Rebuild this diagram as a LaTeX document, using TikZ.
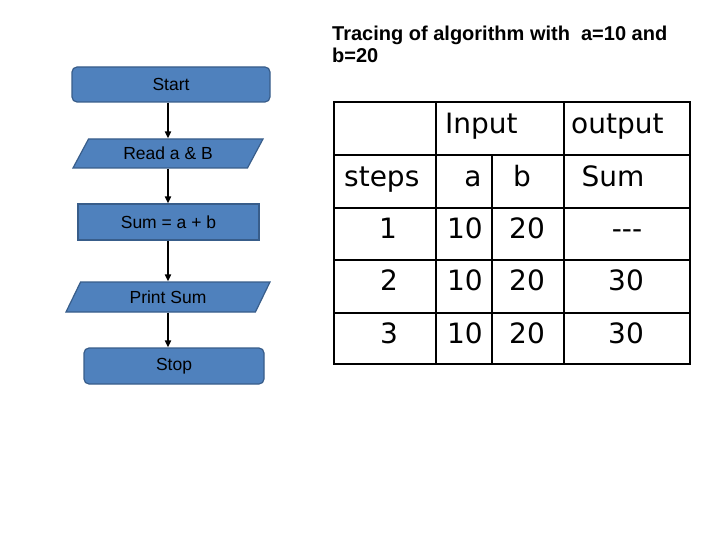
\documentclass[tikz,border=0pt]{standalone}
\usepackage{fontspec}
\setmainfont{Liberation Sans}
\newfontfamily\tabfont{DejaVu Sans}
\usetikzlibrary{shapes.geometric,arrows.meta}
\definecolor{boxfill}{HTML}{4F81BD}
\definecolor{boxline}{HTML}{385D8A}
\begin{document}
\begin{tikzpicture}[x=1pt,y=-1pt,
 fc/.style={draw=boxline,fill=boxfill,line width=1.2pt,inner sep=0pt,font=\fontsize{17.5}{20}\selectfont},
 term/.style={fc,rectangle,rounded corners=5pt},
 proc/.style={fc,rectangle},
 io/.style={fc,trapezium,trapezium stretches body,trapezium left angle=#1,trapezium right angle=180-#1},
 arr/.style={-{Triangle[length=7pt,width=6pt]},line width=1.8pt},
 tline/.style={line width=1.8pt},
 cell/.style={font=\tabfont\fontsize{28}{30}\selectfont,inner sep=0pt}]
\useasboundingbox (0,0) rectangle (720,540);
% flowchart
\node[term,minimum width=198pt,minimum height=35pt] (start) at (171,84.5) {Start};
\node[io=39.6,minimum width=190pt,minimum height=29pt] (read) at (168,153.5) {Read a \& B};
\node[proc,minimum width=181pt,minimum height=36pt] (sum) at (168.5,222) {Sum = a + b};
\node[io=41.4,minimum width=204pt,minimum height=30pt] (print) at (168,297) {Print Sum};
\node[term,minimum width=180pt,minimum height=36pt] (stop) at (174,366) {Stop};
\coordinate (ax) at (168,0);
\draw[arr] (start.south -| ax) -- (read.north -| ax);
\draw[arr] (read.south -| ax) -- (sum.north -| ax);
\draw[arr] (sum.south -| ax) -- (print.north -| ax);
\draw[arr] (print.south -| ax) -- (stop.north -| ax);
% title
\node[anchor=base west,align=left,inner sep=0pt,font=\fontsize{20}{22}\selectfont\bfseries] (title) at (332,63)
 {Tracing of algorithm with\ \ a=10 and\\b=20};
% table
\draw[tline] (334,102) rectangle (690,364);
\foreach \yy in {155,208,260,313} \draw[tline] (334,\yy) -- (690,\yy);
\draw[tline] (436,102) -- (436,364);
\draw[tline] (564,102) -- (564,364);
\draw[tline] (492,155) -- (492,364);
\node[cell,anchor=base west] (hin) at (445,134) {Input};
\node[cell,anchor=base west] (hout) at (571,134) {output};
\node[cell,anchor=base west] (hst) at (344,187) {steps};
\node[cell,anchor=base] (ha) at (473,187) {a};
\node[cell,anchor=base] (hb) at (522,187) {b};
\node[cell,anchor=base] (hs) at (613,187) {Sum};
\node[cell,anchor=base] (s1) at (388,239) {1};
\node[cell,anchor=base] (a1) at (465,239) {10};
\node[cell,anchor=base] (b1) at (527,239) {20};
\node[cell,anchor=base] (r1) at (627,239) {---};
\node[cell,anchor=base] (s2) at (389,290) {2};
\node[cell,anchor=base] (a2) at (465,290) {10};
\node[cell,anchor=base] (b2) at (527,290) {20};
\node[cell,anchor=base] (r2) at (626,290) {30};
\node[cell,anchor=base] (s3) at (389,343) {3};
\node[cell,anchor=base] (a3) at (465,343) {10};
\node[cell,anchor=base] (b3) at (527,343) {20};
\node[cell,anchor=base] (r3) at (626,343) {30};
\end{tikzpicture}
\end{document}
